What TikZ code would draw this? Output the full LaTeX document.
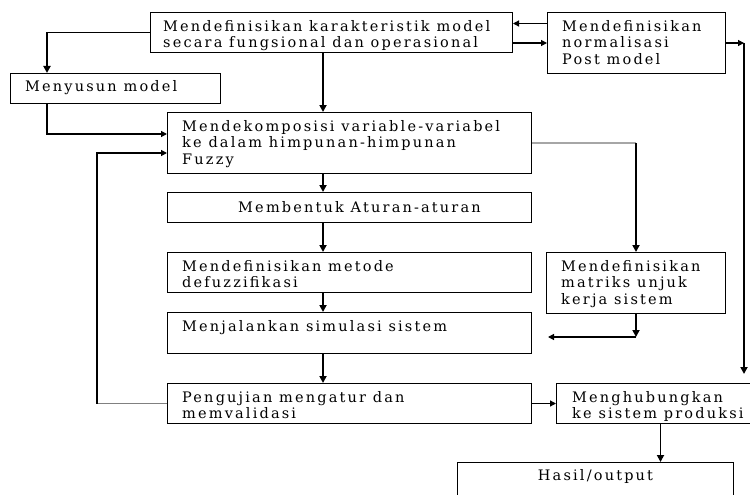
\documentclass[tikz,border=0pt]{standalone}
\usepackage{fontspec}
\setmainfont{DejaVu Serif}[LetterSpace=15]
\usetikzlibrary{arrows.meta}

\tikzset{
  box/.style={draw, line width=1pt, anchor=north west, inner sep=0pt},
  boxtext/.style={anchor=north west, align=left, inner sep=0pt, font=\fontsize{14.5}{16.5}\selectfont},
  flow/.style={-{Triangle[length=7pt,width=7pt]}, line width=1.8pt},
  thin flow/.style={-{Triangle[length=6pt,width=6pt]}, line width=1.2pt},
}

\begin{document}
\begin{tikzpicture}[x=1pt,y=-1pt]
\useasboundingbox (0,0) rectangle (750,495);

% boxes
\node[box, minimum width=362pt, minimum height=40pt] (karak) at (150,12) {};
\node[box, minimum width=178pt, minimum height=61pt] (norm) at (547,12) {};
\node[box, minimum width=210pt, minimum height=30pt] (susun) at (10,73) {};
\node[box, minimum width=364pt, minimum height=61pt] (dekom) at (167,112) {};
\node[box, minimum width=364pt, minimum height=30pt] (bentuk) at (167,192) {};
\node[box, minimum width=364pt, minimum height=40pt] (defuz) at (167,252) {};
\node[box, minimum width=364pt, minimum height=41pt] (simul) at (167,312) {};
\node[box, minimum width=364pt, minimum height=40pt] (uji) at (167,383) {};
\node[box, minimum width=179pt, minimum height=61pt] (matriks) at (546,252) {};
\node[box, minimum width=208pt, minimum height=40pt] (hubung) at (556,383) {};
\node[box, minimum width=276pt, minimum height=45pt] (hasil) at (457,462) {};

% texts
\node[boxtext] (karak-t) at ([shift={(13,8)}]karak.north west)
  {Mendefinisikan karakteristik model\\secara fungsional dan operasional};
\node[boxtext] (norm-t) at ([shift={(15,8)}]norm.north west)
  {Mendefinisikan\\normalisasi\\Post model};
\node[boxtext] (susun-t) at ([shift={(15,7)}]susun.north west) {Menyusun model};
\node[boxtext] (dekom-t) at ([shift={(15,8)}]dekom.north west)
  {Mendekomposisi variable-variabel\\ke dalam himpunan-himpunan\\Fuzzy};
\node[boxtext, anchor=center] (bentuk-t) at ([xshift=10pt]bentuk.center) {Membentuk Aturan-aturan};
\node[boxtext] (defuz-t) at ([shift={(15,8)}]defuz.north west)
  {Mendefinisikan metode\\defuzzifikasi};
\node[boxtext] (simul-t) at ([shift={(15,8)}]simul.north west) {Menjalankan simulasi sistem};
\node[boxtext] (uji-t) at ([shift={(15,8)}]uji.north west)
  {Pengujian mengatur dan\\memvalidasi};
\node[boxtext] (matriks-t) at ([shift={(15,8)}]matriks.north west)
  {Mendefinisikan\\matriks unjuk\\kerja sistem};
\node[boxtext] (hubung-t) at ([shift={(16,8)}]hubung.north west)
  {Menghubungkan\\ke sistem produksi};
\node[boxtext, anchor=north] (hasil-t) at ([yshift=-7pt]hasil.north) {Hasil/output};

% helper points
\coordinate (spine) at (323,0);
\coordinate (rt) at (744,0);
\coordinate (fb) at (97,0);
\coordinate (simtip) at (548,337);
\coordinate (nk) at ([yshift=9pt]karak.east);

% main chain
\draw[flow] (karak.south -| spine) -- (dekom.north -| spine);
\draw[flow] (dekom.south -| spine) -- (bentuk.north -| spine);
\draw[flow] (bentuk.south -| spine) -- (defuz.north -| spine);
\draw[flow] (defuz.south -| spine) -- (simul.north -| spine);
\draw[flow] (simul.south -| spine) -- (uji.north -| spine);

% left side
\draw[flow] (karak.west) -| ([xshift=37pt]susun.north west);
\draw[thin flow] ([xshift=37pt]susun.south west) |- ([yshift=9pt]dekom.west);
\draw[gray, line width=1.4pt] (uji.west) -- (uji.west -| fb);
\draw[thin flow] (uji.west -| fb) |- ([yshift=-10pt]dekom.west);

% right side
\draw[thin flow] (norm.west |- nk) -- (nk);
\draw[thin flow] (karak.east |- norm.west) -- (norm.west);
\draw[thin flow] (norm.east) -- (norm.east -| rt);
\draw[flow, shorten >=9pt] (norm.east -| rt) -- (rt |- hubung.north);
\draw[gray!70, line width=1.6pt] (dekom.east) -- (dekom.east -| matriks.north);
\draw[flow] (dekom.east -| matriks.north) -- (matriks.north);
\draw[flow] (matriks.south) -- (matriks.south |- simtip);
\draw[thin flow] (matriks.south |- simtip) -- (simtip);
\draw[thin flow] (uji.east) -- (hubung.west);
\draw[flow] (hubung.south) -- (hubung.south |- hasil.north);
\end{tikzpicture}
\end{document}
